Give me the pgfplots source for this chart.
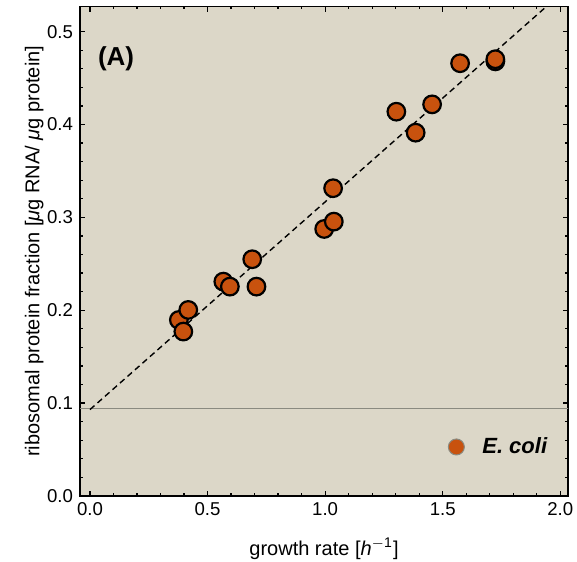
\documentclass[border=0pt]{standalone}
\usepackage{fontspec}
\setmainfont{Liberation Sans}
\usepackage{pgfplots}
\pgfplotsset{compat=1.18}
\usetikzlibrary{calc}
\definecolor{bgcol}{HTML}{DCD7C8}
\definecolor{ecoli}{HTML}{C8520E}
\definecolor{hline}{HTML}{8A8A80}

\begin{document}
\begin{tikzpicture}
\begin{axis}[
    scale only axis,
    width=244pt,
    height=244.65pt,
    xmin=-0.0425, xmax=2.033,
    ymin=0, ymax=0.527,
    axis background/.style={fill=bgcol},
    axis line style={line width=0.9pt},
    xtick={0,0.5,1,1.5,2},
    ytick={0,0.1,0.2,0.3,0.4,0.5},
    minor x tick num=4,
    minor y tick num=4,
    tick align=inside,
    major tick length=2.6pt,
    minor tick length=1.4pt,
    every tick/.style={black,line width=0.6pt},
    xticklabel style={/pgf/number format/.cd,fixed,fixed zerofill,precision=1},
    yticklabel style={/pgf/number format/.cd,fixed,fixed zerofill,precision=1},
    /pgf/number format/assume math mode=true,
    tick label style={font=\fontsize{9.3}{10}\selectfont},
    label style={font=\fontsize{11}{12}\selectfont},
    xlabel={growth rate [\textit{h}\textsuperscript{$-$1}]},
    ylabel={ribosomal protein fraction [\textit{μ}g RNA/ \textit{μ}g protein]},
    every axis x label/.style={at={(axis description cs:0.5,-0.108)},anchor=center},
    every axis y label/.style={at={(axis description cs:-0.094,0.5)},anchor=center,rotate=90},
    legend style={at={(axis description cs:0.754,0.1)},anchor=west,draw=none,fill=none,
                  font=\fontsize{11}{12}\selectfont\bfseries\itshape,
                  inner sep=0pt,row sep=0pt},
    clip=true,
]
% horizontal reference level
\addplot[hline, line width=0.6pt, forget plot] coordinates {(-0.1,0.0944) (2.1,0.0944)};
% linear fit
\addplot[black, dashed, line width=0.7pt, dash pattern=on 3pt off 2pt, forget plot]
    coordinates {(0,0.093) (2.05,0.5514)};
% measurements
\addplot[only marks, mark=*, mark size=4.4pt,
         mark options={fill=ecoli, draw=black, line width=1.1pt}, forget plot]
    coordinates {
    (0.378,0.1895)
    (0.397,0.1770)
    (0.418,0.2003)
    (0.567,0.2308)
    (0.595,0.2254)
    (0.690,0.2549)
    (0.708,0.2254)
    (0.996,0.2875)
    (1.037,0.2954)
    (1.034,0.3314)
    (1.303,0.4138)
    (1.385,0.3912)
    (1.455,0.4217)
    (1.574,0.4660)
    (1.724,0.4680)
    (1.724,0.4703)
    };
\addlegendimage{only marks, mark=*, mark size=4pt,
                mark options={fill=ecoli, draw=hline, line width=0.5pt}}
\addlegendentry{\hspace{7pt}E. coli}
% panel tag
\node[font=\fontsize{13}{14}\selectfont\bfseries] at (rel axis cs:0.074,0.894) {(A)};
\end{axis}
\pgfresetboundingbox
\path ($(current axis.south west)+(-40pt,-33pt)$) rectangle ($(current axis.north east)+(4.5pt,3.3pt)$);
\end{tikzpicture}
\end{document}
